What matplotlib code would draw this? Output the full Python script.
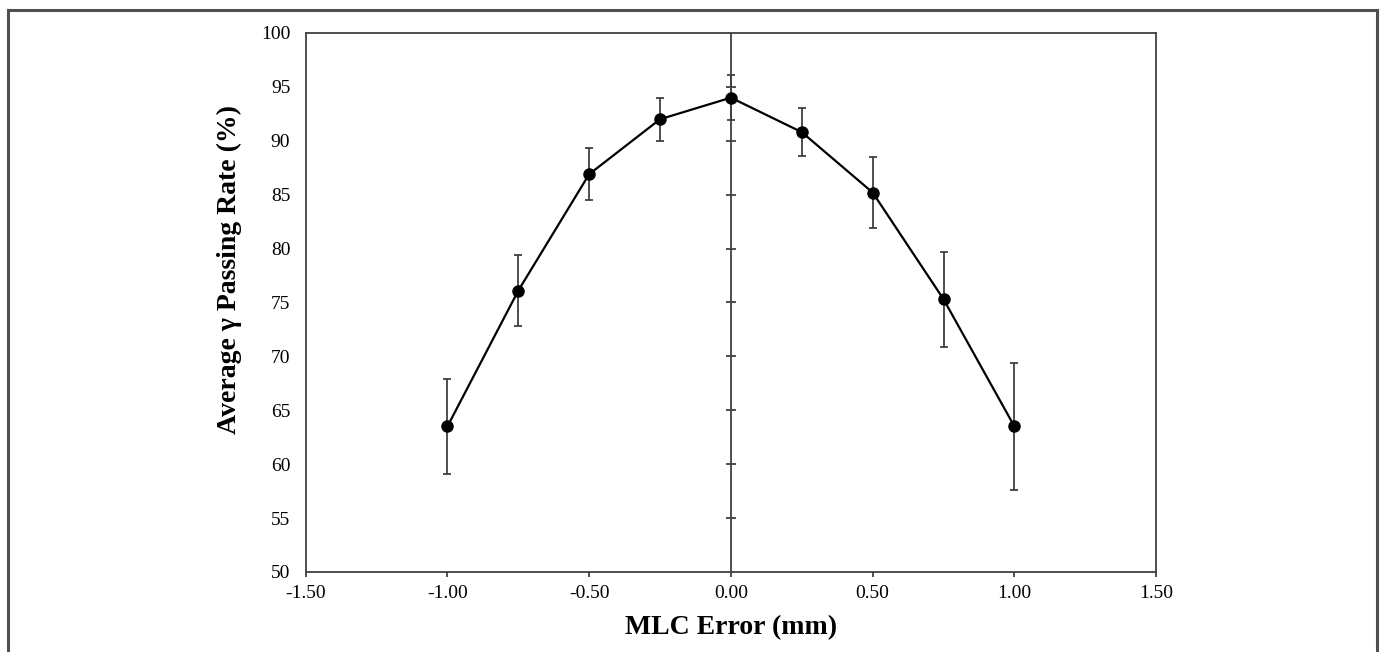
import matplotlib.pyplot as plt
from matplotlib.lines import Line2D

# Data
mlc_error = [-1.00, -0.75, -0.50, -0.25, 0.00, 0.25, 0.50, 0.75, 1.00]
passing_rate = [63.5, 76.1, 86.9, 92.0, 94.0, 90.8, 85.2, 75.3, 63.5]
std_dev = [4.4, 3.3, 2.4, 2.0, 2.1, 2.2, 3.3, 4.4, 5.9]

x_ticks = [-1.5, -1.0, -0.5, 0.0, 0.5, 1.0, 1.5]
y_ticks = list(range(50, 101, 5))

plt.rcParams['font.family'] = ['Liberation Serif', 'DejaVu Serif']

fig = plt.figure(figsize=(13.83, 6.52), dpi=100)
ax = fig.add_axes([0.221, 0.1227, 0.615, 0.8267])

axis_col = '#404040'

# center vertical axis at x = 0 with crossing ticks
ax.plot([0, 0], [50, 100], color=axis_col, lw=1.3, zorder=1)
ax.plot([0] * (len(y_ticks) - 2), y_ticks[1:-1], ls='none', marker='_',
        markersize=7, markeredgewidth=1.3, color=axis_col, zorder=1)

ax.errorbar(mlc_error, passing_rate, yerr=std_dev, fmt='none',
            ecolor=axis_col, elinewidth=1.3, capsize=3, capthick=1.3, zorder=2)
ax.plot(mlc_error, passing_rate, color='black', lw=1.6, marker='o',
        markersize=8, zorder=3)

ax.set_xlim(-1.5, 1.5)
ax.set_ylim(50, 100)
ax.set_xticks(x_ticks)
ax.set_xticklabels([f'{v:.2f}' for v in x_ticks])
ax.set_yticks(y_ticks)

for s in ax.spines.values():
    s.set_color(axis_col)
    s.set_linewidth(1.3)

ax.tick_params(axis='y', length=0, pad=11, labelsize=14)
ax.tick_params(axis='x', direction='out', length=3.5, width=1.3,
               color=axis_col, pad=6, labelsize=14)

ax.set_xlabel('MLC Error (mm)', fontsize=20, fontweight='bold', labelpad=9)
ax.set_ylabel('Average γ Passing Rate (%)', fontsize=20, fontweight='bold')
ax.yaxis.set_label_coords(-0.075, 0.562)

# outer frame (bottom edge lies outside the image)
frame_kw = dict(color='#505050', lw=2.2, transform=fig.transFigure)
fig.add_artist(Line2D([0.0058, 0.0058], [0, 0.985], **frame_kw))
fig.add_artist(Line2D([0.0058, 0.9957], [0.985, 0.985], **frame_kw))
fig.add_artist(Line2D([0.9957, 0.9957], [0, 0.985], **frame_kw))

fig.savefig('out.png', dpi=100)
